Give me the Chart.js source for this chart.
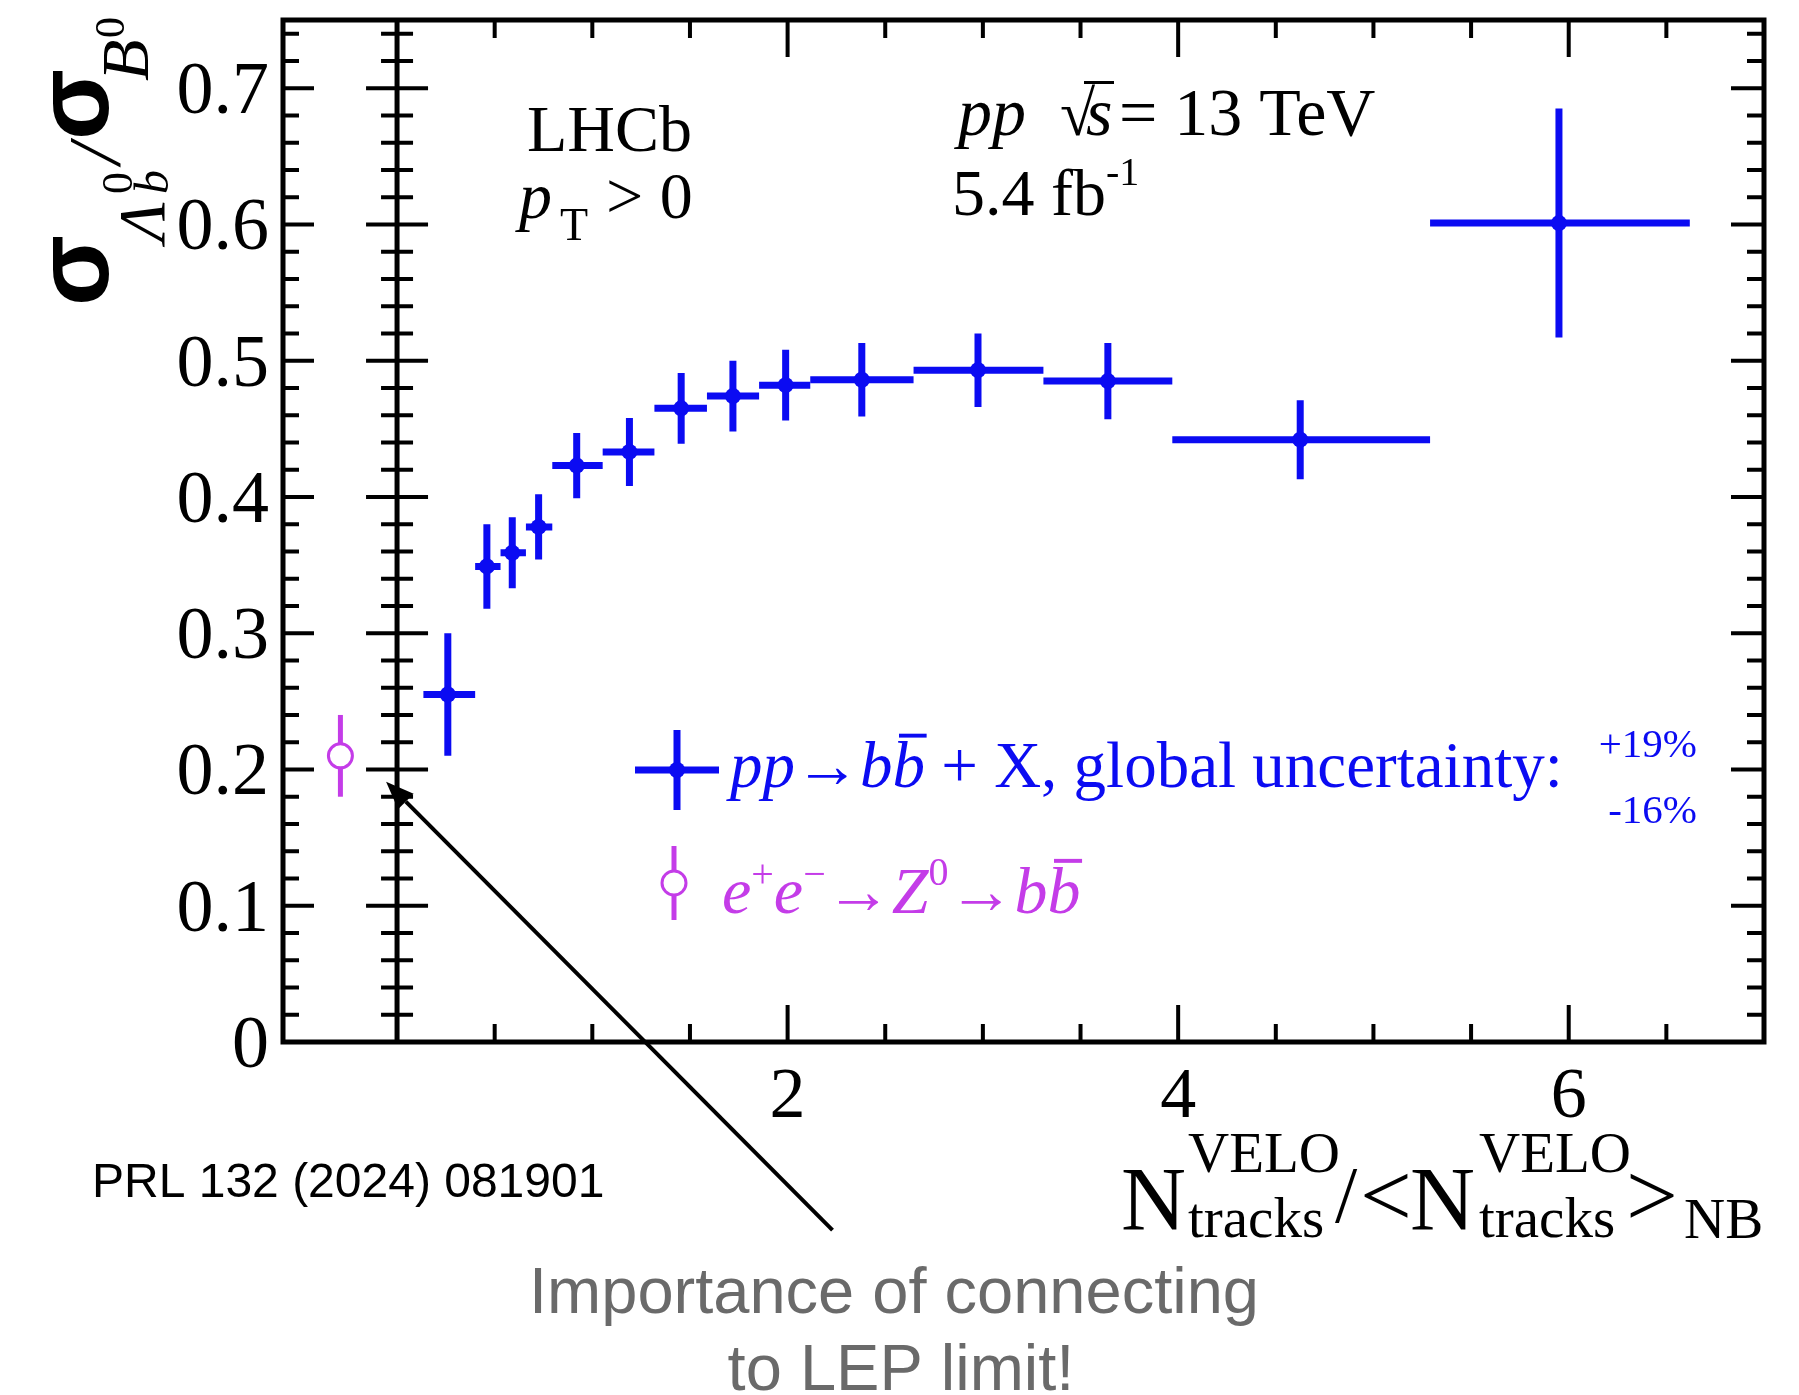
<!DOCTYPE html>
<html>
<head>
<meta charset="utf-8">
<script src="https://cdn.jsdelivr.net/npm/chart.js"></script>
<style>
    html, body { margin: 0; padding: 0; background: #fff; }
    canvas { display: block; }
</style>
</head>
<body>
<canvas id="chart-container" width="1799" height="1395" style="width:1799px;height:1395px"></canvas>
<script>
// Lambda_b0 / B0 cross-section ratio vs normalised VELO track multiplicity

var binCenters  = [0.26, 0.46, 0.59, 0.725, 0.92, 1.19, 1.455, 1.72, 1.99, 2.38, 2.975, 3.64, 4.625, 5.95];
var binLow      = [0.135, 0.40, 0.53, 0.66, 0.795, 1.053, 1.318, 1.587, 1.854, 2.116, 2.645, 3.31, 3.97, 5.29];
var binHigh     = [0.40, 0.53, 0.66, 0.795, 1.053, 1.318, 1.587, 1.854, 2.116, 2.645, 3.31, 3.97, 5.29, 6.62];
var ratioValues = [0.255, 0.349, 0.359, 0.378, 0.423, 0.433, 0.465, 0.474, 0.482, 0.486, 0.493, 0.485, 0.442, 0.601];
var ratioErrors = [0.045, 0.031, 0.026, 0.024, 0.024, 0.025, 0.026, 0.026, 0.026, 0.027, 0.027, 0.028, 0.029, 0.084];

// LEP e+e- -> Z0 -> bb point
var lepX      = [-0.29];
var lepValues = [0.21];
var lepErrors = [0.030];

var yTickValues = [0, 0.1, 0.2, 0.3, 0.4, 0.5, 0.6, 0.7];
var yTickLabels = ['0', '0.1', '0.2', '0.3', '0.4', '0.5', '0.6', '0.7'];
var xTickValues = [2, 4, 6];
var xTickLabels = ['2', '4', '6'];

// annotation arrow, in data units
var arrowTail = { x: 2.23, y: -0.138 };
var arrowHead = { x: -0.056, y: 0.191 };

var BLUE = '#0b0bf2';
var MAGENTA = '#c43ce8';
var SERIF = '"Liberation Serif", "Times New Roman", serif';
var SANS = '"Liberation Sans", Arial, sans-serif';

function drawPieces(ctx, pieces, x, y) {
    pieces.forEach(function (p) {
        ctx.font = (p.style || '') + ' ' + p.size + 'px ' + (p.family || SERIF);
        var w = ctx.measureText(p.t).width;
        ctx.fillText(p.t, x, y + (p.dy || 0));
        if (p.bar) {
            ctx.fillRect(x + w * 0.2, y + (p.dy || 0) - p.size * 0.82, w * 0.85, p.size * 0.06);
        }
        if (!p.stack) x += w + (p.gap || 0);
    });
    return x;
}

var physicsFrame = {
    id: 'physicsFrame',
    beforeDatasetsDraw: function (chart) {
        var ctx = chart.ctx;
        var xs = chart.scales.x, ys = chart.scales.y;
        ctx.save();
        ctx.lineCap = 'butt';
        ctx.strokeStyle = BLUE;
        ctx.lineWidth = 7;
        for (var i = 0; i < binCenters.length; i++) {
            var yc = ys.getPixelForValue(ratioValues[i]);
            var xc = xs.getPixelForValue(binCenters[i]);
            ctx.beginPath();
            ctx.moveTo(xs.getPixelForValue(binLow[i]), yc);
            ctx.lineTo(xs.getPixelForValue(binHigh[i]), yc);
            ctx.moveTo(xc, ys.getPixelForValue(ratioValues[i] + ratioErrors[i]));
            ctx.lineTo(xc, ys.getPixelForValue(ratioValues[i] - ratioErrors[i]));
            ctx.stroke();
        }
        ctx.strokeStyle = MAGENTA;
        ctx.lineWidth = 5;
        for (var j = 0; j < lepX.length; j++) {
            var lx = xs.getPixelForValue(lepX[j]);
            ctx.beginPath();
            ctx.moveTo(lx, ys.getPixelForValue(lepValues[j] + lepErrors[j]));
            ctx.lineTo(lx, ys.getPixelForValue(lepValues[j] - lepErrors[j]));
            ctx.stroke();
        }
        ctx.restore();
    },
    afterDraw: function (chart) {
        var ctx = chart.ctx;
        var a = chart.chartArea;
        var xs = chart.scales.x, ys = chart.scales.y;
        ctx.save();
        ctx.strokeStyle = '#000';
        ctx.fillStyle = '#000';

        // frame
        ctx.lineWidth = 5;
        ctx.strokeRect(a.left, a.top, a.right - a.left, a.bottom - a.top);
        var x0 = xs.getPixelForValue(0);
        ctx.beginPath();
        ctx.moveTo(x0, a.top);
        ctx.lineTo(x0, a.bottom);
        ctx.stroke();

        // y ticks: left frame, x=0 axis (both sides), right frame
        ctx.lineWidth = 4;
        ctx.beginPath();
        for (var i = 1; i <= 37; i++) {
            var v = i * 0.02;
            var y = ys.getPixelForValue(v);
            var big = (i % 5 === 0);
            var len = big ? 31 : 16;
            ctx.moveTo(a.left, y); ctx.lineTo(a.left + len, y);
            ctx.moveTo(x0 - len, y); ctx.lineTo(x0 + len, y);
            ctx.moveTo(a.right, y); ctx.lineTo(a.right - (big ? 33 : 17), y);
        }
        // x ticks: bottom and top
        for (var k = 1; k < 14; k++) {
            var xv = k * 0.5;
            var px = xs.getPixelForValue(xv);
            var l2 = (xv % 2 === 0) ? 37 : 18;
            ctx.moveTo(px, a.bottom); ctx.lineTo(px, a.bottom - l2);
            ctx.moveTo(px, a.top); ctx.lineTo(px, a.top + l2);
        }
        ctx.stroke();

        // tick labels
        ctx.font = '74px ' + SERIF;
        ctx.textAlign = 'right';
        yTickValues.forEach(function (v, n) {
            ctx.fillText(yTickLabels[n], a.left - 14, ys.getPixelForValue(v) + 25);
        });
        ctx.textAlign = 'center';
        ctx.font = '72px ' + SERIF;
        xTickValues.forEach(function (v, n) {
            ctx.fillText(xTickLabels[n], xs.getPixelForValue(v), a.bottom + 75);
        });

        // x axis title
        ctx.textAlign = 'left';
        ctx.font = '90px ' + SERIF;
        ctx.fillText('N', 1121, 1230);
        ctx.fillText('N', 1410, 1230);
        ctx.font = '57px ' + SERIF;
        ctx.fillText('VELO', 1188, 1172);
        ctx.fillText('tracks', 1188, 1237);
        ctx.fillText('VELO', 1479, 1172);
        ctx.fillText('tracks', 1479, 1237);
        ctx.fillText('NB', 1684, 1238);
        ctx.font = '80px ' + SERIF;
        ctx.fillText('/', 1335, 1222);
        ctx.font = '92px ' + SERIF;
        ctx.fillText('<', 1360, 1226);
        ctx.fillText('>', 1626, 1226);

        // y axis title (rotated)
        ctx.save();
        ctx.translate(108, 306);
        ctx.rotate(-Math.PI / 2);
        ctx.font = 'bold 104px ' + SANS;
        ctx.fillText('\u03c3', 0, 0);
        ctx.font = 'italic 66px ' + SERIF;
        ctx.fillText('\u039b', 64, 56);
        ctx.font = '44px ' + SERIF;
        ctx.fillText('0', 112, 24);
        ctx.font = 'italic 48px ' + SERIF;
        ctx.fillText('b', 112, 60);
        ctx.font = 'italic 74px ' + SERIF;
        ctx.fillText('/', 142, 12);
        ctx.font = 'bold 104px ' + SANS;
        ctx.fillText('\u03c3', 166, 0);
        ctx.font = 'italic 68px ' + SERIF;
        ctx.fillText('B', 225, 40);
        ctx.font = '42px ' + SERIF;
        ctx.fillText('0', 268, 16);
        ctx.restore();

        // experiment labels
        ctx.font = '66px ' + SERIF;
        ctx.fillText('LHCb', 527, 151);
        ctx.font = 'italic 66px ' + SERIF;
        ctx.fillText('p', 519, 218);
        ctx.font = '46px ' + SERIF;
        ctx.fillText('T', 560, 240);
        ctx.font = '66px ' + SERIF;
        ctx.fillText('> 0', 606, 218);

        ctx.font = 'italic 68px ' + SERIF;
        ctx.fillText('pp', 958, 135);
        ctx.font = '64px ' + SERIF;
        ctx.fillText('\u221a', 1060, 135);
        ctx.fillRect(1084, 135 - 54, 30, 3);
        ctx.font = 'italic 68px ' + SERIF;
        ctx.fillText('s', 1086, 135);
        ctx.font = '68px ' + SERIF;
        ctx.fillText('= 13 TeV', 1119, 135);
        drawPieces(ctx, [
            { t: '5.4 fb', size: 66 },
            { t: '-1', size: 40, dy: -30 }
        ], 952, 215);

        // legend
        ctx.fillStyle = BLUE;
        ctx.strokeStyle = BLUE;
        ctx.lineWidth = 7;
        ctx.beginPath();
        ctx.moveTo(635, 770); ctx.lineTo(719, 770);
        ctx.moveTo(677, 730); ctx.lineTo(677, 810);
        ctx.stroke();
        ctx.beginPath();
        ctx.arc(677, 770, 8, 0, Math.PI * 2);
        ctx.fill();
        drawPieces(ctx, [
            { t: 'pp', style: 'italic', size: 65 },
            { t: '\u2192', size: 65 },
            { t: 'b', style: 'italic', size: 65 },
            { t: 'b', style: 'italic', size: 65, bar: true },
            { t: ' + X, global uncertainty:', size: 65 }
        ], 730, 787);
        ctx.textAlign = 'right';
        ctx.font = '41px ' + SERIF;
        ctx.fillText('+19%', 1697, 757);
        ctx.fillText('-16%', 1697, 823);
        ctx.textAlign = 'left';

        ctx.fillStyle = MAGENTA;
        ctx.strokeStyle = MAGENTA;
        ctx.lineWidth = 5;
        ctx.beginPath();
        ctx.moveTo(674, 846); ctx.lineTo(674, 920);
        ctx.stroke();
        ctx.fillStyle = '#fff';
        ctx.lineWidth = 3;
        ctx.beginPath();
        ctx.arc(674, 883, 12, 0, Math.PI * 2);
        ctx.fill();
        ctx.stroke();
        ctx.fillStyle = MAGENTA;
        drawPieces(ctx, [
            { t: 'e', style: 'italic', size: 66 },
            { t: '+', size: 40, dy: -26 },
            { t: 'e', style: 'italic', size: 66 },
            { t: '\u2212', size: 40, dy: -26 },
            { t: '\u2192', size: 66 },
            { t: 'Z', style: 'italic', size: 66 },
            { t: '0', size: 40, dy: -28 },
            { t: '\u2192', size: 66 },
            { t: 'b', style: 'italic', size: 66 },
            { t: 'b', style: 'italic', size: 66, bar: true }
        ], 722, 913);

        // reference and annotation
        ctx.fillStyle = '#000';
        ctx.font = '48px ' + SANS;
        ctx.fillText('PRL 132 (2024) 081901', 92, 1197);

        var hx = xs.getPixelForValue(arrowHead.x), hy = ys.getPixelForValue(arrowHead.y);
        var tx = xs.getPixelForValue(arrowTail.x), ty = ys.getPixelForValue(arrowTail.y);
        var ang = Math.atan2(hy - ty, hx - tx);
        var bx = hx - 28 * Math.cos(ang), by = hy - 28 * Math.sin(ang);
        ctx.strokeStyle = '#000';
        ctx.lineWidth = 4;
        ctx.beginPath();
        ctx.moveTo(tx, ty);
        ctx.lineTo(bx, by);
        ctx.stroke();
        ctx.beginPath();
        ctx.moveTo(hx, hy);
        ctx.lineTo(bx - 11 * Math.sin(ang), by + 11 * Math.cos(ang));
        ctx.lineTo(bx + 11 * Math.sin(ang), by - 11 * Math.cos(ang));
        ctx.closePath();
        ctx.fill();

        ctx.fillStyle = '#6a6a6a';
        ctx.textAlign = 'center';
        ctx.font = '65px ' + SANS;
        ctx.fillText('Importance of connecting', 894, 1313);
        ctx.fillText('to LEP limit!', 901, 1390);
        ctx.restore();
    }
};

function renderChart() {
    var ctx = document.getElementById('chart-container').getContext('2d');

    var data = {
        datasets: [{
            label: 'pp -> bb + X',
            data: binCenters.map(function (x, i) { return { x: x, y: ratioValues[i] }; }),
            pointRadius: 8,
            pointBackgroundColor: BLUE,
            pointBorderWidth: 0,
            showLine: false
        }, {
            label: 'e+e- -> Z0 -> bb',
            data: lepX.map(function (x, i) { return { x: x, y: lepValues[i] }; }),
            pointRadius: 12,
            pointBackgroundColor: '#fff',
            pointBorderColor: MAGENTA,
            pointBorderWidth: 3,
            showLine: false
        }]
    };

    var options = {
        responsive: false,
        maintainAspectRatio: false,
        devicePixelRatio: 1,
        animation: false,
        events: [],
        layout: { padding: { left: 283, right: 35, top: 20, bottom: 353 } },
        scales: {
            x: { type: 'linear', min: -0.584, max: 7.0, display: false },
            y: { type: 'linear', min: 0, max: 0.75, display: false }
        },
        plugins: {
            legend: { display: false },
            tooltip: { enabled: false }
        }
    };

    new Chart(ctx, {
        type: 'scatter',
        data: data,
        options: options,
        plugins: [physicsFrame]
    });
}

renderChart();
</script>
</body>
</html>
